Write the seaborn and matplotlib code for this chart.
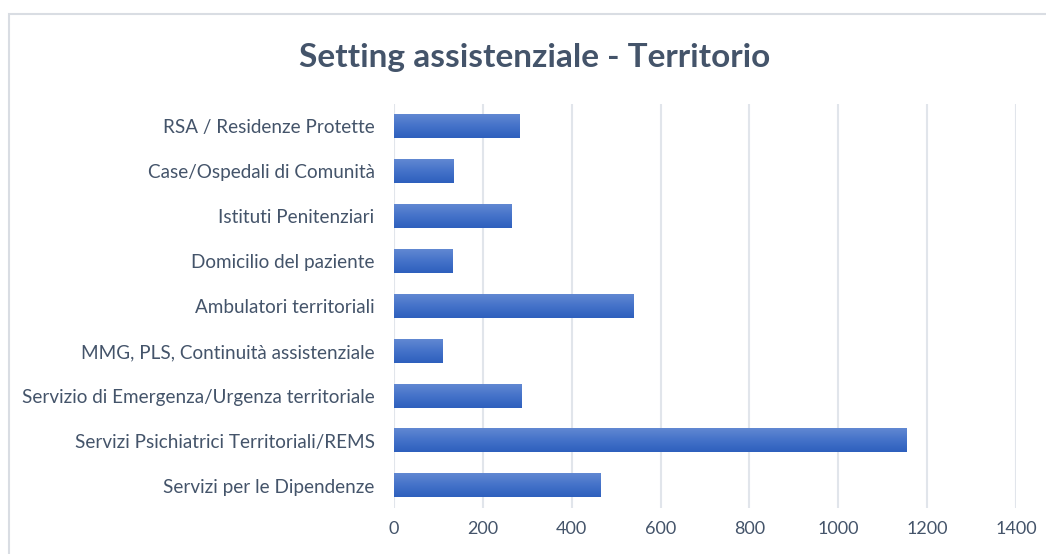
import numpy as np
import pandas as pd
import seaborn as sns
import matplotlib.pyplot as plt
from matplotlib.patches import Rectangle
from matplotlib.colors import LinearSegmentedColormap

categories = [
    "RSA / Residenze Protette",
    "Case/Ospedali di Comunità",
    "Istituti Penitenziari",
    "Domicilio del paziente",
    "Ambulatori territoriali",
    "MMG, PLS, Continuità assistenziale",
    "Servizio di Emergenza/Urgenza territoriale",
    "Servizi Psichiatrici Territoriali/REMS",
    "Servizi per le Dipendenze",
]
values = [282, 133, 264, 131, 539, 110, 287, 1153, 465]
xticks = [0, 200, 400, 600, 800, 1000, 1200, 1400]

df = pd.DataFrame({"setting": categories, "count": values})

sns.set_style("white")
plt.rcParams["font.family"] = ["Lato", "DejaVu Sans"]

text_col = "#44546A"
grid_col = "#E1E5EB"

fig = plt.figure(figsize=(10.46, 5.54), dpi=100)
ax = fig.add_axes([0.3767, 0.083, 0.5946, 0.7292])

sns.barplot(data=df, x="count", y="setting", order=categories,
            color="#3E6FC7", width=0.526, ax=ax, zorder=3)

# gradient fill on each bar: row 0 sits at the visual top (y axis inverted)
cmap = LinearSegmentedColormap.from_list("bar", ["#6188D2", "#4472C9", "#2E60BD"])
grad = np.linspace(0, 1, 64).reshape(-1, 1)
for p in ax.patches:
    x0, y0 = p.get_x(), p.get_y()
    w, h = p.get_width(), p.get_height()
    p.set_facecolor("none")
    p.set_edgecolor("none")
    ax.imshow(grad, cmap=cmap, aspect="auto", origin="upper",
              extent=(x0, x0 + w, y0 + h, y0), zorder=3, interpolation="bilinear")

ax.set_xlim(0, 1400)
ax.set_ylim(len(categories) - 0.5, -0.5)
ax.set_xticks(xticks)
ax.set_xticklabels([str(t) for t in xticks])
ax.set_xlabel("")
ax.set_ylabel("")
ax.grid(axis="x", color=grid_col, linewidth=1.5, zorder=0)
ax.grid(axis="y", visible=False)
for s in ax.spines.values():
    s.set_visible(False)
ax.tick_params(axis="both", length=0, labelcolor=text_col)
ax.tick_params(axis="y", pad=14, labelsize=13.6)
ax.tick_params(axis="x", pad=9, labelsize=13)

fig.text(0.511, 0.897, "Setting assistenziale - Territorio", ha="center", va="center",
         fontsize=24, fontweight="bold", color=text_col)

# chart area border (extends past the right/bottom edges)
fig.patches.append(Rectangle((9 / 1046, -0.1), 1.2, 1 - 14 / 554 + 0.1,
                             transform=fig.transFigure, fill=False,
                             edgecolor="#D9DDE3", linewidth=1.5))

fig.savefig("out.png", dpi=100)
